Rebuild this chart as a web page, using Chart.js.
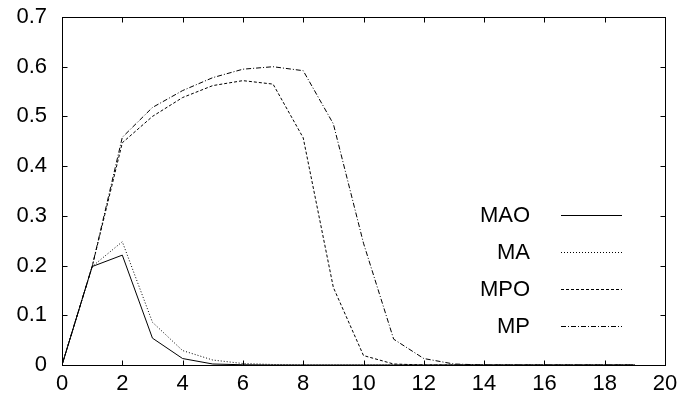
<!DOCTYPE html>
<html>
<head>
<meta charset="utf-8">
<script src="https://cdn.jsdelivr.net/npm/chart.js@4/dist/chart.umd.min.js"></script>
<style>
  body { margin: 0; background: #fff; }
  canvas { display: block; }
</style>
</head>
<body>
<canvas id="chart" width="686" height="402"></canvas>
<script>
const xValues = [0, 1, 2, 3, 4, 5, 6, 7, 8, 9, 10, 11, 12, 13, 14, 15, 16, 17, 18, 19];
const mao = [0, 0.198, 0.221, 0.054, 0.013, 0.002, 0.0005, 0, 0, 0, 0, 0, 0, 0, 0, 0, 0, 0, 0, 0];
const ma  = [0, 0.198, 0.248, 0.086, 0.029, 0.010, 0.003, 0.001, 0, 0, 0, 0, 0, 0, 0, 0, 0, 0, 0, 0];
const mpo = [0, 0.198, 0.447, 0.500, 0.538, 0.562, 0.572, 0.565, 0.457, 0.156, 0.019, 0.002, 0, 0, 0, 0, 0, 0, 0, 0];
const mp  = [0, 0.198, 0.458, 0.518, 0.552, 0.578, 0.595, 0.600, 0.592, 0.485, 0.245, 0.052, 0.013, 0.002, 0, 0, 0, 0, 0, 0];
const seriesNames = ["MAO", "MA", "MPO", "MP"];

const FONT = "'Liberation Sans', Arial, sans-serif";
const FSIZE = 22;

function pts(vals) {
    return vals.map((v, i) => ({x: xValues[i], y: v}));
}

// gnuplot style box + inward ticks + legend
const frame = {
    id: 'frame',
    afterDatasetsDraw(chart) {
        const ctx = chart.ctx;
        const a = chart.chartArea;
        const sx = chart.scales.x, sy = chart.scales.y;
        const L = Math.round(a.left) + 0.5, R = Math.round(a.right) + 0.5;
        const T = Math.round(a.top) + 0.5, B = Math.round(a.bottom) + 0.5;
        ctx.save();
        ctx.strokeStyle = '#000';
        ctx.lineWidth = 1;
        ctx.strokeRect(L, T, R - L, B - T);
        ctx.beginPath();
        sx.ticks.forEach(t => {
            const px = Math.round(sx.getPixelForValue(t.value)) + 0.5;
            ctx.moveTo(px, B); ctx.lineTo(px, B - 5);
            ctx.moveTo(px, T); ctx.lineTo(px, T + 5);
        });
        sy.ticks.forEach(t => {
            const py = Math.round(sy.getPixelForValue(t.value)) + 0.5;
            ctx.moveTo(L, py); ctx.lineTo(L + 5, py);
            ctx.moveTo(R, py); ctx.lineTo(R - 5, py);
        });
        ctx.stroke();

        // legend
        ctx.font = FSIZE + 'px ' + FONT;
        ctx.fillStyle = '#000';
        ctx.textAlign = 'right';
        ctx.textBaseline = 'middle';
        chart.data.datasets.forEach((ds, i) => {
            const yy = 215 + i * 37;
            ctx.fillText(ds.label, 530, yy + 1);
            ctx.beginPath();
            ctx.setLineDash(ds.borderDash || []);
            ctx.moveTo(561, Math.round(yy) + 0.5);
            ctx.lineTo(622, Math.round(yy) + 0.5);
            ctx.stroke();
        });
        ctx.restore();
    }
};

const dashes = [[], [1, 2], [3, 2], [5, 2, 1, 2]];
const data = [mao, ma, mpo, mp];

new Chart(document.getElementById('chart'), {
    type: 'line',
    data: {
        datasets: data.map((d, i) => ({
            label: seriesNames[i],
            data: pts(d),
            borderColor: '#000',
            borderWidth: 1,
            borderDash: dashes[i],
            pointRadius: 0,
            tension: 0,
            fill: false
        }))
    },
    options: {
        responsive: false,
        animation: false,
        layout: {padding: {top: 17, right: 21, left: 0, bottom: 0}},
        plugins: {legend: {display: false}, tooltip: {enabled: false}},
        scales: {
            x: {
                type: 'linear', min: 0, max: 20,
                grid: {display: false, drawTicks: false},
                border: {display: false},
                ticks: {stepSize: 2, color: '#000', padding: 6, maxRotation: 0,
                        font: {family: FONT, size: FSIZE}},
                afterFit: s => { s.height = 37; s.paddingLeft = 0; s.paddingRight = 0; }
            },
            y: {
                min: 0, max: 0.7,
                grid: {display: false, drawTicks: false},
                border: {display: false},
                ticks: {stepSize: 0.1, color: '#000', padding: 15,
                        font: {family: FONT, size: FSIZE},
                        callback: v => Math.round(v * 10) / 10 + ''},
                afterFit: s => { s.width = 62; s.paddingTop = 0; s.paddingBottom = 0; }
            }
        }
    },
    plugins: [frame]
});
</script>
</body>
</html>
